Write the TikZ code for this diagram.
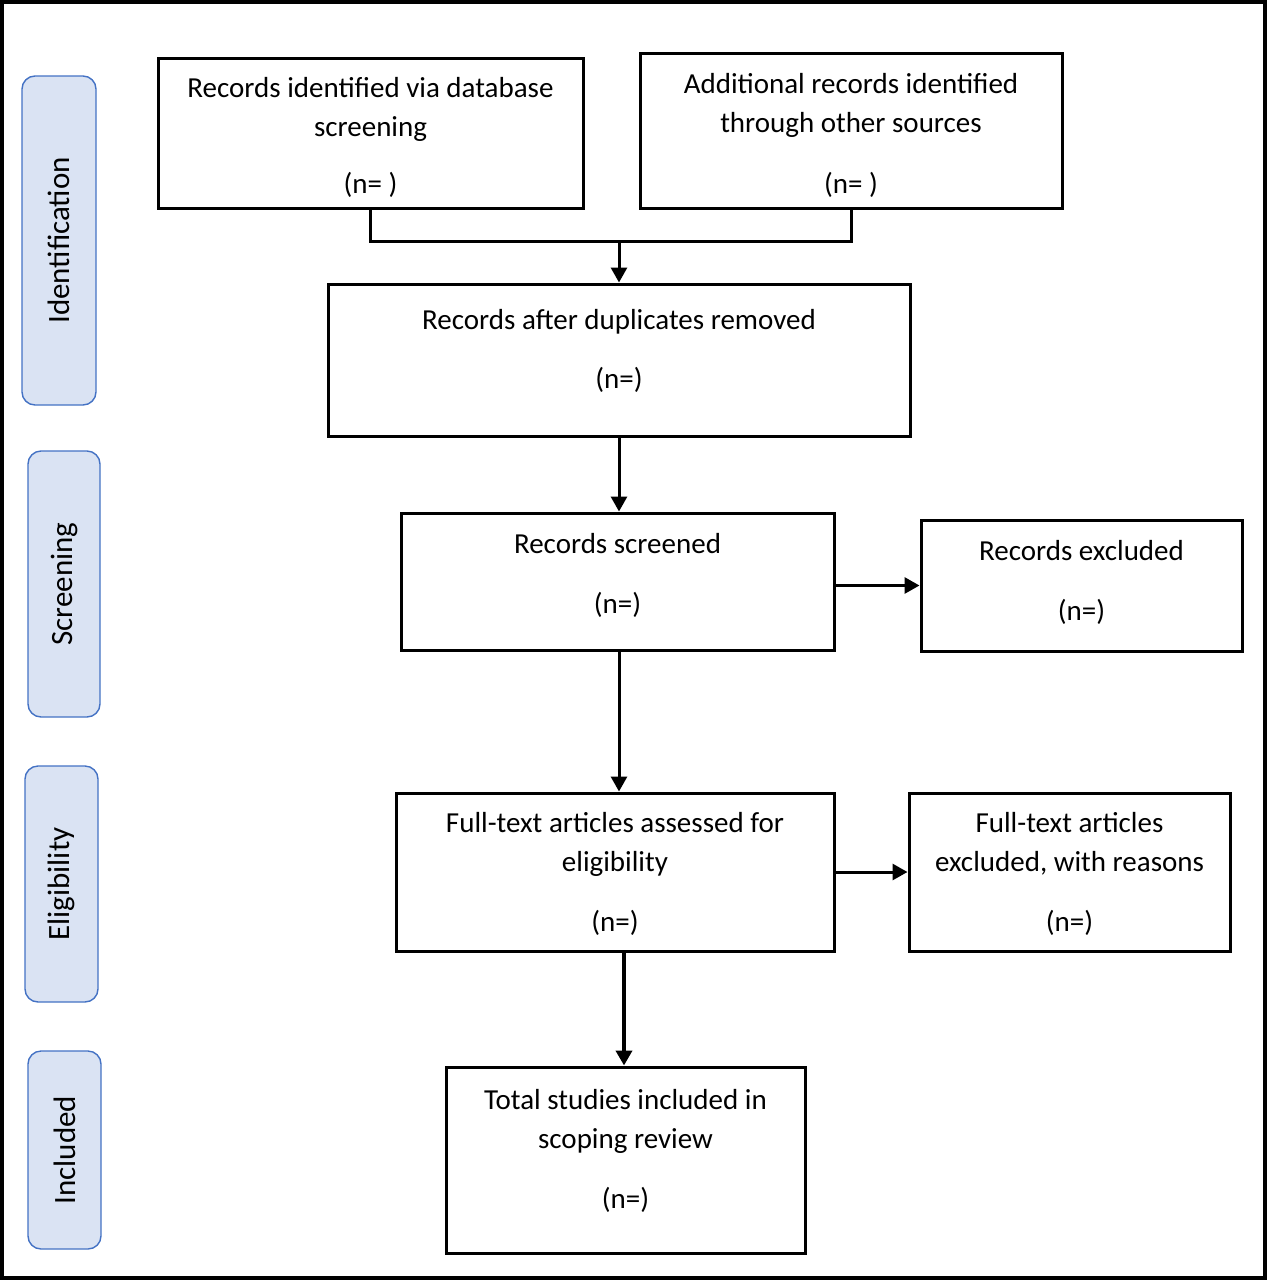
\documentclass[tikz,border=0pt]{standalone}
\usepackage{fontspec}
\setmainfont{Carlito}
\usetikzlibrary{arrows.meta}
\definecolor{sidefill}{HTML}{DAE3F3}
\definecolor{sidedraw}{HTML}{4472C4}
\tikzset{
  box/.style={draw=black, line width=3pt, inner sep=0pt},
  txt/.style={align=center, inner sep=0pt, anchor=north, font=\fontsize{29}{39}\selectfont},
  side/.style={draw=sidedraw, fill=sidefill, line width=1.4pt, rounded corners=13pt, inner sep=0pt},
  sidetxt/.style={rotate=90, font=\fontsize{31}{36}\selectfont, inner sep=0pt},
  conn/.style={line width=3pt},
  arr/.style={line width=3pt, -{Triangle[length=15pt,width=16pt]}},
}
\begin{document}
\begin{tikzpicture}[x=1pt,y=-1pt]
\useasboundingbox (0,0) rectangle (1267,1280);
\draw[line width=3.5pt] (2,2) rectangle (1265,1278);

% side labels
\node[side, minimum width=74pt, minimum height=329pt] (s1) at (59,240.5) {};
\node[sidetxt] (s1t) at (s1.center) {Identification};
\node[side, minimum width=72pt, minimum height=266pt] (s2) at (64,584) {};
\node[sidetxt] (s2t) at (s2.center) {Screening};
\node[side, minimum width=73pt, minimum height=236pt] (s3) at (61.5,884) {};
\node[sidetxt] (s3t) at (s3.center) {Eligibility};
\node[side, minimum width=73pt, minimum height=198pt] (s4) at (64.5,1150) {};
\node[sidetxt] (s4t) at (s4.center) {Included};

% boxes
\node[box, minimum width=425pt, minimum height=150pt] (A) at (370.5,133) {};
\node[txt] (At) at ([yshift=-21pt]A.north) {Records identified via database\\screening\\[18pt](n= )};
\node[box, minimum width=422pt, minimum height=155pt] (B) at (851,130.5) {};
\node[txt] (Bt) at ([yshift=-22pt]B.north) {Additional records identified\\through other sources\\[22pt](n= )};
\node[box, minimum width=582pt, minimum height=152pt] (C) at (619,360) {};
\node[txt] (Ct) at ([yshift=-27pt]C.north) {Records after duplicates removed\\[20pt](n=)};
\node[box, minimum width=433pt, minimum height=137pt] (D) at (617.5,581.5) {};
\node[txt] (Dt) at ([yshift=-22pt]D.north) {Records screened\\[21pt](n=)};
\node[box, minimum width=321pt, minimum height=131pt] (E) at (1081.5,585.5) {};
\node[txt] (Et) at ([yshift=-22pt]E.north) {Records excluded\\[21pt](n=)};
\node[box, minimum width=438pt, minimum height=158pt] (F) at (615,872) {};
\node[txt] (Ft) at ([yshift=-21pt]F.north) {Full-text articles assessed for\\eligibility\\[21pt](n=)};
\node[box, minimum width=321pt, minimum height=158pt] (G) at (1069.5,872) {};
\node[txt] (Gt) at ([yshift=-21pt]G.north) {Full-text articles\\excluded, with reasons\\[21pt](n=)};
\node[box, minimum width=359pt, minimum height=186pt] (H) at (625.5,1160) {};
\node[txt] (Ht) at ([yshift=-24pt]H.north) {Total studies included in\\scoping review\\[21pt](n=)};

% connectors
\coordinate (bar) at (619,241);
\draw[conn] (A.south) |- (bar) -| (B.south);
\draw[arr] (bar) -- (C.north);
\draw[arr] (C.south) -- (C.south |- D.north);
\draw[arr] ([xshift=1.5pt]D.south) -- ([xshift=1.5pt]D.south |- F.north);
\draw[arr] (E.west -| D.east) -- (E.west);
\draw[arr] (F.east) -- (G.west);
\draw[line width=4pt, -{Triangle[length=15pt,width=16pt]}] ([xshift=-1.5pt]H.north |- F.south) -- ([xshift=-1.5pt]H.north);
\end{tikzpicture}
\end{document}
